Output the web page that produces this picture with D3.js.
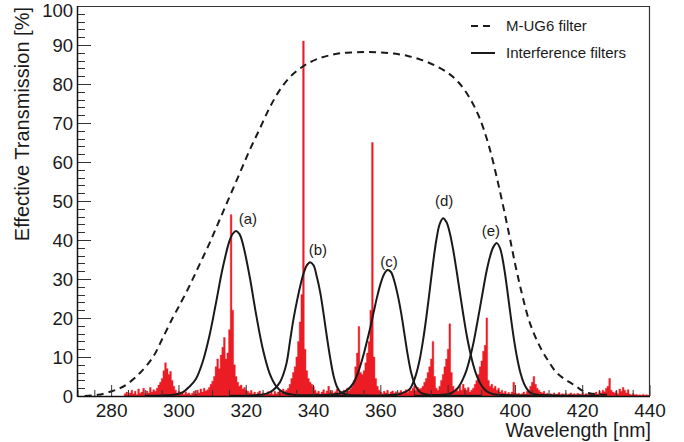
<!DOCTYPE html>
<html><head><meta charset="utf-8">
<script src="https://cdn.jsdelivr.net/npm/d3@7"></script>
<style>
body{margin:0;background:#fff;}
svg{display:block;}
text{font-family:"Liberation Sans",Arial,Helvetica,sans-serif;fill:#1a1a1a;}
</style>
</head><body>
<svg id="chart" width="684" height="442"></svg>
<script>
// ---------------- data ----------------
const xTickValues = [280, 300, 320, 340, 360, 380, 400, 420, 440];
const yTickValues = [0, 10, 20, 30, 40, 50, 60, 70, 80, 90, 100];
const xTitle = "Wavelength [nm]";
const yTitle = "Effective Transmission [%]";
const legendLabels = ["M-UG6 filter", "Interference filters"];

// Measured emission spectrum (histogram bins, centred every 0.5 nm from 284 nm)
const spectrumStart = 284;
const spectrumStep = 0.5;
const spectrumValues = [
  0.6,1.0,0.3,0.8,1.5,0.5,1.2,0.4,1.8,0.7,1.0,2.0,0.6,1.3,0.8,2.2,1.0,1.6,1.2,2.0,
  2.8,3.5,4.5,6.5,8.5,7.0,5.5,6.3,4.0,2.5,1.5,0.8,
  1.2,0.5,0.9,0.4,1.1,0.6,0.8,0.3,0.7,1.2,0.5,1.5,0.8,1.8,1.0,2.0,1.3,1.6,2.2,3.0,
  3.8,5.0,7.5,9.5,7.0,10.5,12.5,15.0,9.5,11.0,17.0,46.5,22.0,8.0,5.0,3.5,2.5,2.8,1.8,2.2,
  1.5,1.2,0.8,1.4,0.6,1.0,0.4,0.9,1.3,0.5,0.8,0.3,0.7,1.1,0.5,0.9,0.4,1.2,0.6,1.0,1.5,0.8,1.8,1.2,1.5,
  2.0,3.0,4.5,6.0,7.5,10.0,14.0,19.0,26.0,91.0,12.0,6.5,4.5,3.5,3.0,2.4,
  1.5,0.8,1.2,0.5,1.0,1.6,0.7,1.3,2.5,0.9,1.4,0.6,1.1,1.8,0.8,1.2,0.5,1.5,0.9,2.0,1.3,1.8,2.5,
  4.0,7.5,11.0,17.8,6.0,5.5,6.5,8.5,11.0,14.0,22.0,65.0,10.0,4.5,2.5,1.5,1.0,
  0.6,1.2,0.8,1.5,0.5,1.0,1.3,0.7,1.1,0.4,0.9,1.4,0.8,1.2,1.6,0.9,1.8,1.3,2.0,2.6,1.5,2.2,1.8,
  2.0,2.5,3.5,4.5,6.0,7.5,9.5,14.0,5.0,2.0,1.5,2.5,4.0,5.5,7.5,9.5,12.0,18.5,6.0,2.5,
  1.5,2.0,1.2,2.5,1.5,3.0,2.0,1.5,2.2,1.0,1.5,2.0,3.0,4.0,5.5,7.5,9.0,11.5,13.0,20.0,4.0,
  2.5,3.0,2.0,2.5,1.5,2.0,1.0,1.5,0.8,1.2,0.6,0.9,0.5,1.0,3.5,0.8,0.5,0.7,0.4,0.6,1.0,0.5,1.2,
  1.5,2.5,3.5,5.0,3.0,2.0,1.5,1.0,0.8,1.2,0.5,0.7,0.4,
  0.6,0.3,0.8,0.4,0.5,0.9,0.3,0.6,0.4,0.7,0.3,0.5,0.8,0.4,0.6,0.3,0.7,0.5,0.4,0.9,0.3,0.6,0.4,0.8,0.5,0.3,0.7,1.0,0.5,1.2,0.8,1.5,1.1,
  2.0,2.5,4.5,1.5,1.0,0.8,1.2,0.6,1.8,1.2,2.2,1.5,0.8,1.6,0.5,0.3,0.6,0.3,0.4,0.2,0.3,0.2,0.4,0.2,0.3,0.2,0.2
];

// M-UG6 filter transmission [nm, %]
const ug6Curve = [
  [272,0],[276,0.3],[280,1.2],[282.5,2.0],[285,3.3],[288.4,5.9],[292.3,10.0],[295.3,15.1],[298.3,20.3],
  [300,23],[303,28],[306,33.5],[309,39],[312,45],[315,51],[318,57],[321,63],[324,68.5],[327,74],
  [330,78.5],[333,81.8],[336,84],[339,85.6],[342,86.7],[345,87.4],[348,87.9],[352,88.1],[356,88.2],
  [360,88.1],[364,87.8],[368,87.2],[372,86.2],[376,84.8],[380,82.8],[383,80.5],[386,77],[389,72],
  [392,64.5],[395,54],[398,42],[400,33.5],[402,26],[404,19.5],[406,15],[408,11.5],[410,8.7],
  [412,6.2],[414,4.7],[416,3.6],[418,2.5],[420,1.3],[422,0.7],[425,0.4],[428,0.3]
];

// Interference filters (a)-(e) [nm, %]
const filterA = [[290,0.05],[295,0.15],[299,0.4],[301,0.9],[303,2.3],[305,4.3],[307,8.6],[309,15.2],[311,23.8],[313,32.8],[315,39.7],[316,41.6],[317,42.3],[318,41.5],[319,39.0],[321,30.7],[323,20.6],[325,11.8],[327,5.7],[329,2.4],[331,0.9],[334,0.35],[340,0.15],[350,0.08]];
const filterB = [[315,0.05],[322,0.15],[326,0.6],[328,1.5],[330,3.5],[331,5.5],[332,8.5],[333,14.0],[334,19.5],[335,24.0],[336,28.0],[337,31.3],[338,33.5],[339,34.3],[340,33.5],[341,30.5],[342,26.5],[343,21.0],[344,15.0],[345,9.5],[346,5.0],[347,2.3],[348,1.0],[350,0.35],[355,0.15],[365,0.08]];
const filterC = [[335,0.05],[340,0.15],[345,0.35],[348,0.7],[350,1.5],[352,3.5],[353,5.5],[354,8.0],[355,11.0],[356,14.5],[357,18.0],[358,22.0],[359,25.8],[360,29.0],[361,31.3],[362,32.3],[363,31.8],[364,29.5],[365,26.0],[366,21.5],[367,16.0],[368,10.5],[369,6.0],[370,3.2],[371,1.6],[372,0.8],[374,0.3],[378,0.15],[390,0.08]];
const filterD = [[355,0.05],[362,0.2],[366,0.6],[368.5,1.7],[369.5,3.2],[370.5,5.6],[371.5,9.1],[372.5,14.0],[373.5,20.0],[374.5,26.9],[375.5,33.9],[376.5,40.0],[377.5,44.1],[378.5,45.6],[379.5,44.6],[380.5,41.8],[381.5,37.5],[382.5,32.2],[383.5,26.5],[384.5,20.9],[385.5,15.7],[386.5,11.4],[387.5,7.9],[388.5,5.2],[389.5,3.3],[390.5,2.0],[391.5,1.2],[393.5,0.45],[398,0.2],[410,0.08]];
const filterE = [[370,0.08],[376,0.2],[380.5,0.56],[382.5,1.7],[383.5,2.8],[384.5,4.5],[385.5,6.7],[386.5,9.8],[387.5,13.5],[388.5,18.0],[389.5,22.8],[390.5,27.7],[391.5,32.3],[392.5,35.9],[393.5,38.3],[394.5,39.2],[395.5,37.7],[396.5,33.6],[397.5,27.7],[398.5,21.1],[399.5,14.9],[400.5,9.8],[401.5,5.9],[402.5,3.3],[403.5,1.7],[404.5,0.8],[406.5,0.3],[412,0.15],[425,0.08]];
const filterLabels = ["(a)", "(b)", "(c)", "(d)", "(e)"];
const filterLabelAt = [[320.5,44.0],[341.3,36.2],[362.4,33.1],[378.8,48.7],[392.7,41.0]];

// ---------------- drawing ----------------
const M = {left: 78, right: 650, top: 6, bottom: 396};
const svg = d3.select("#chart");
const x = d3.scaleLinear().domain([270, 440]).range([M.left, M.right]);
const y = d3.scaleLinear().domain([0, 100]).range([M.bottom, M.top]);

svg.append("clipPath").attr("id", "plotclip")
  .append("rect").attr("x", M.left).attr("y", M.top)
  .attr("width", M.right - M.left).attr("height", M.bottom - M.top);

const plot = svg.append("g").attr("clip-path", "url(#plotclip)");

// spectrum histogram as one stepped area
const stepPts = [];
spectrumValues.forEach((v, i) => {
  const c = spectrumStart + i * spectrumStep;
  stepPts.push([c - spectrumStep / 2, v], [c + spectrumStep / 2, v]);
});
const area = d3.area().x(d => x(d[0])).y0(y(0)).y1(d => y(d[1]));
plot.append("path").attr("d", area(stepPts)).attr("fill", "#ec1c24")
  .attr("stroke", "#ec1c24").attr("stroke-width", 0.4);

// ticks (inside)
const tickCol = "#333";
const axes = svg.append("g");
const xMinor = d3.range(270, 441, 5).filter(v => xTickValues.indexOf(v) < 0);
axes.selectAll(".xmaj").data(xTickValues).join("line")
  .attr("x1", d => x(d)).attr("x2", d => x(d))
  .attr("y1", M.bottom).attr("y2", M.bottom - 11)
  .attr("stroke", tickCol).attr("stroke-width", 1);
axes.selectAll(".xmin").data(xMinor).join("line")
  .attr("x1", d => x(d)).attr("x2", d => x(d))
  .attr("y1", M.bottom).attr("y2", M.bottom - 6)
  .attr("stroke", tickCol).attr("stroke-width", 1);
const yMinor = d3.range(0, 101, 2).filter(v => v % 10 !== 0);
axes.selectAll(".ymaj").data(yTickValues).join("line")
  .attr("x1", M.left).attr("x2", M.left + 13)
  .attr("y1", d => Math.round(y(d)) + 0.5).attr("y2", d => Math.round(y(d)) + 0.5)
  .attr("stroke", tickCol).attr("stroke-width", 1);
axes.selectAll(".ymin").data(yMinor).join("line")
  .attr("x1", M.left).attr("x2", M.left + 7)
  .attr("y1", d => Math.round(y(d)) + 0.5).attr("y2", d => Math.round(y(d)) + 0.5)
  .attr("stroke", tickCol).attr("stroke-width", 1);

// filter curves
const line = d3.line().x(d => x(d[0])).y(d => y(d[1])).curve(d3.curveCatmullRom.alpha(0.5));
[filterA, filterB, filterC, filterD, filterE].forEach(f => {
  plot.append("path").attr("d", line(f)).attr("fill", "none")
    .attr("stroke", "#1a1a1a").attr("stroke-width", 2);
});
plot.append("path").attr("d", line(ug6Curve)).attr("fill", "none")
  .attr("stroke", "#1a1a1a").attr("stroke-width", 2).attr("stroke-dasharray", "7,5");

// filter labels
svg.append("g").selectAll("text").data(filterLabels).join("text")
  .attr("x", (d, i) => x(filterLabelAt[i][0]))
  .attr("y", (d, i) => y(filterLabelAt[i][1]))
  .attr("text-anchor", "middle").attr("font-size", 15).text(d => d);

// frame
svg.append("line").attr("x1", M.left).attr("x2", M.right).attr("y1", M.top + 0.5).attr("y2", M.top + 0.5)
  .attr("stroke", "#333").attr("stroke-width", 1);
svg.append("line").attr("x1", M.right - 0.5).attr("x2", M.right - 0.5).attr("y1", M.top).attr("y2", M.bottom)
  .attr("stroke", "#333").attr("stroke-width", 1.2);
svg.append("line").attr("x1", M.left).attr("x2", M.right).attr("y1", M.bottom + 0.5).attr("y2", M.bottom + 0.5)
  .attr("stroke", "#111").attr("stroke-width", 1.5);
svg.append("line").attr("x1", M.left - 0.5).attr("x2", M.left - 0.5).attr("y1", M.top).attr("y2", M.bottom + 1)
  .attr("stroke", "#111").attr("stroke-width", 1.5);

// tick labels
svg.append("g").selectAll("text").data(xTickValues).join("text")
  .attr("x", d => x(d)).attr("y", M.bottom + 21)
  .attr("text-anchor", "middle").attr("font-size", 19).text(d => d);
svg.append("g").selectAll("text").data(yTickValues).join("text")
  .attr("x", M.left - 5).attr("y", d => Math.max(y(d) + 7, 17))
  .attr("text-anchor", "end").attr("font-size", 18.5).text(d => d);

// axis titles
svg.append("text").attr("x", M.right + 1).attr("y", 437)
  .attr("text-anchor", "end").attr("font-size", 19.5).text(xTitle);
svg.append("text").attr("transform", `translate(29,${M.top + 1}) rotate(-90)`)
  .attr("text-anchor", "end").attr("font-size", 20).text(yTitle);

// legend
const lg = svg.append("g");
const legendStyles = [{dash: "7,5"}, {dash: null}];
legendLabels.forEach((t, i) => {
  const ly = 26 + i * 27;
  lg.append("line").attr("x1", 471).attr("x2", 495).attr("y1", ly).attr("y2", ly)
    .attr("stroke", "#1a1a1a").attr("stroke-width", 2)
    .attr("stroke-dasharray", legendStyles[i].dash);
  lg.append("text").attr("x", 506).attr("y", ly + 5).attr("font-size", 15).text(t);
});
</script>
</body></html>
